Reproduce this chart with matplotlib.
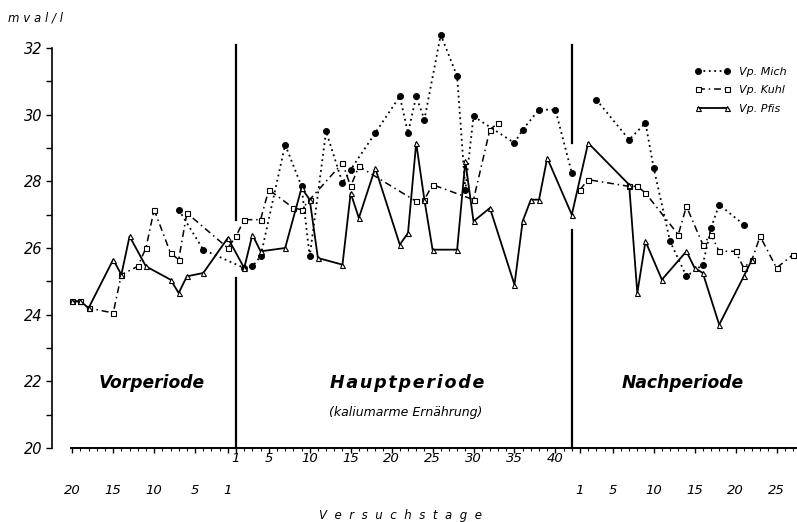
import numpy as np
import matplotlib
matplotlib.use("Agg")
import matplotlib.pyplot as plt
from matplotlib.lines import Line2D

# ---------------- data ----------------
# Vp. Mich
mich_vor_days = [7, 4]
mich_vor_vals = [27.15, 25.95]
mich_haupt_days = [2, 3, 4, 7, 9, 10, 12, 14, 15, 18, 21, 22, 23, 24, 26, 28, 29, 30, 35, 36, 38, 40, 42]
mich_haupt_vals = [25.4, 25.45, 25.75, 29.1, 27.85, 25.75, 29.5, 27.95, 28.35, 29.45, 30.55, 29.45,
                   30.55, 29.85, 32.4, 31.15, 27.75, 29.95, 29.15, 29.55, 30.15, 30.15, 28.25]
mich_nach_days = [3, 7, 9, 10, 12, 14, 16, 17, 18, 21]
mich_nach_vals = [30.45, 29.25, 29.75, 28.4, 26.2, 25.15, 25.5, 26.6, 27.3, 26.7]

# Vp. Kuhl
kuhl_vor_days = [20, 19, 18, 15, 14, 12, 11, 10, 8, 7, 6, 1]
kuhl_vor_vals = [24.4, 24.4, 24.2, 24.05, 25.2, 25.45, 26.0, 27.15, 25.85, 25.65, 27.05, 26.0]
kuhl_haupt_days = [1, 2, 4, 5, 8, 9, 10, 14, 15, 16, 23, 24, 25, 30, 32, 33]
kuhl_haupt_vals = [26.35, 26.85, 26.85, 27.75, 27.2, 27.15, 27.45, 28.55, 27.85, 28.45,
                   27.4, 27.45, 27.9, 27.45, 29.55, 29.75]
kuhl_nach_days = [1, 2, 7, 8, 9, 13, 14, 16, 17, 18, 20, 21, 22, 23, 25, 27]
kuhl_nach_vals = [27.75, 28.05, 27.85, 27.85, 27.65, 26.4, 27.25, 26.1, 26.4, 25.9, 25.9,
                  25.4, 25.65, 26.35, 25.4, 25.8]

# Vp. Pfis
pfis_vor_days = [20, 19, 18, 15, 14, 13, 11, 8, 7, 6, 4, 1]
pfis_vor_vals = [24.4, 24.4, 24.2, 25.65, 25.2, 26.35, 25.45, 25.05, 24.65, 25.15, 25.25, 26.3]
pfis_haupt_days = [2, 3, 4, 7, 9, 10, 11, 14, 15, 16, 18, 21, 22, 23, 24, 25, 28, 29, 30, 32,
                   35, 36, 37, 38, 39, 42]
pfis_haupt_vals = [25.4, 26.4, 25.9, 26.0, 27.8, 27.45, 25.7, 25.5, 27.65, 26.9, 28.4, 26.1,
                   26.45, 29.15, 27.45, 25.95, 25.95, 28.6, 26.8, 27.2, 24.9, 26.8, 27.45,
                   27.45, 28.7, 27.0]
pfis_nach_days = [2, 7, 8, 9, 11, 14, 15, 16, 18, 21, 22]
pfis_nach_vals = [29.15, 27.9, 24.65, 26.2, 25.05, 25.9, 25.4, 25.25, 23.7, 25.15, 25.65]

vor_tick_days = [20, 15, 10, 5, 1]
haupt_tick_days = [1, 5, 10, 15, 20, 25, 30, 35, 40]
nach_tick_days = [1, 5, 10, 15, 20, 25]
haupt_length = 42
vor_length = 20
nach_length = 27


def pos(period, days):
    d = np.asarray(days, float)
    if period == "vor":
        return -d
    if period == "haupt":
        return d - 1
    return d + (haupt_length - 1)


plt.rcParams["font.family"] = ["DejaVu Sans"]

fig = plt.figure(figsize=(7.97, 5.22), dpi=100)
ax = fig.add_axes([71 / 797, 74 / 522, 726 / 797, 400 / 522])
ax.set_xlim(-20.15, 68.5)
ax.set_ylim(20, 32)

styles = {
    "mich": dict(color="black", lw=1.3, linestyle=(0, (1, 2)), marker="o", ms=4.4,
                 mfc="black", mec="black", mew=0.6),
    "kuhl": dict(color="black", lw=1.1, linestyle=(0, (4.5, 2.5, 1, 2.5)), marker="s", ms=3.6,
                 mfc="white", mec="black", mew=0.8),
    "pfis": dict(color="black", lw=1.3, linestyle="-", marker="^", ms=3.6,
                 mfc="white", mec="black", mew=0.8),
}

# Mich: Vor+Haupt connected, Nach separate
ax.plot(np.concatenate([pos("vor", mich_vor_days), pos("haupt", mich_haupt_days)]),
        mich_vor_vals + mich_haupt_vals, **styles["mich"], zorder=4, clip_on=False)
ax.plot(pos("nach", mich_nach_days), mich_nach_vals, **styles["mich"], zorder=4, clip_on=False)

# Kuhl: Vor+Haupt connected, Nach separate
ax.plot(np.concatenate([pos("vor", kuhl_vor_days), pos("haupt", kuhl_haupt_days)]),
        kuhl_vor_vals + kuhl_haupt_vals, **styles["kuhl"], zorder=3, clip_on=False)
ax.plot(pos("nach", kuhl_nach_days), kuhl_nach_vals, **styles["kuhl"], zorder=3, clip_on=False)

# Pfis: all connected
ax.plot(np.concatenate([pos("vor", pfis_vor_days), pos("haupt", pfis_haupt_days),
                        pos("nach", pfis_nach_days)]),
        pfis_vor_vals + pfis_haupt_vals + pfis_nach_vals, **styles["pfis"], zorder=5,
        clip_on=False)

# period separators (with gaps)
sep1 = pos("haupt", [1])[0]
sep2 = pos("haupt", [haupt_length])[0]
for x0, segs in [(sep1, [(20, 25.1), (26.85, 32.1)]), (sep2, [(20, 26.55), (29.15, 32.1)])]:
    for y0, y1 in segs:
        ax.plot([x0, x0], [y0, y1], color="black", lw=1.6, clip_on=False, zorder=2)

# spines
for s in ["top", "right"]:
    ax.spines[s].set_visible(False)
ax.spines["left"].set_position(("outward", 13.7))
ax.spines["left"].set_linewidth(1.2)
ax.spines["bottom"].set_linewidth(1.4)

# y ticks
yt = list(range(20, 33))
ax.set_yticks(yt)
ax.set_yticklabels([str(v) if v % 2 == 0 else "" for v in yt])
ax.tick_params(axis="y", direction="out", length=4.3, width=1.0, pad=2.5, labelsize=10.5)
for lab in ax.get_yticklabels():
    lab.set_style("italic")

# x ticks
all_days = np.arange(-vor_length, pos("nach", [nach_length])[0] + 1)
major = np.concatenate([pos("vor", vor_tick_days), pos("haupt", haupt_tick_days),
                        pos("nach", nach_tick_days)])
ax.set_xticks(major)
ax.set_xticklabels([])
ax.set_xticks(all_days, minor=True)
ax.tick_params(axis="x", which="major", direction="out", length=3.6, width=1.0)
ax.tick_params(axis="x", which="minor", direction="out", length=2.2, width=0.8)

tr = ax.get_xaxis_transform()
for d in haupt_tick_days:
    ax.text(pos("haupt", [d])[0], -0.027, str(d), transform=tr, ha="center", va="center",
            fontsize=9.5, style="italic")
for d in vor_tick_days:
    ax.text(pos("vor", [d])[0], -0.107, str(d), transform=tr, ha="center", va="center",
            fontsize=9.5, style="italic")
for d in nach_tick_days:
    ax.text(pos("nach", [d])[0], -0.107, str(d), transform=tr, ha="center", va="center",
            fontsize=9.5, style="italic")

# axis texts
fig.text(400 / 797, 1 - 516 / 522, "V  e  r  s  u  c  h  s  t  a  g  e", ha="center",
         va="center", fontsize=8.5, style="italic")
fig.text(8 / 797, 1 - 18 / 522, "m v a l / l", ha="left", va="center", fontsize=8.5,
         style="italic")

# period texts
hs = "\u200a"
ax.text(-10.3, 21.95, "Vorperiode", ha="center", va="center", fontsize=12.3,
        style="italic", weight="bold")
ax.text(20.9, 21.95, hs.join("Hauptperiode"), ha="center", va="center", fontsize=12.6,
        style="italic", weight="bold")
ax.text(20.7, 21.08, "(kaliumarme Ernährung)", ha="center", va="center", fontsize=9,
        style="italic")
ax.text(54.6, 21.95, "Nachperiode", ha="center", va="center", fontsize=12.3,
        style="italic", weight="bold")

# legend
handles = [Line2D([], [], **styles[k]) for k in ["mich", "kuhl", "pfis"]]
leg = ax.legend(handles, ["Vp. Mich", "Vp. Kuhl", "Vp. Pfis"], loc="upper left",
                bbox_to_anchor=(695 / 797, 1 - 67 / 522), bbox_transform=fig.transFigure,
                frameon=False, numpoints=2, handlelength=3.2, handletextpad=0.8,
                labelspacing=0.75, borderpad=0, borderaxespad=0,
                prop=dict(size=8, style="italic"))

fig.savefig("out.png", dpi=100)
